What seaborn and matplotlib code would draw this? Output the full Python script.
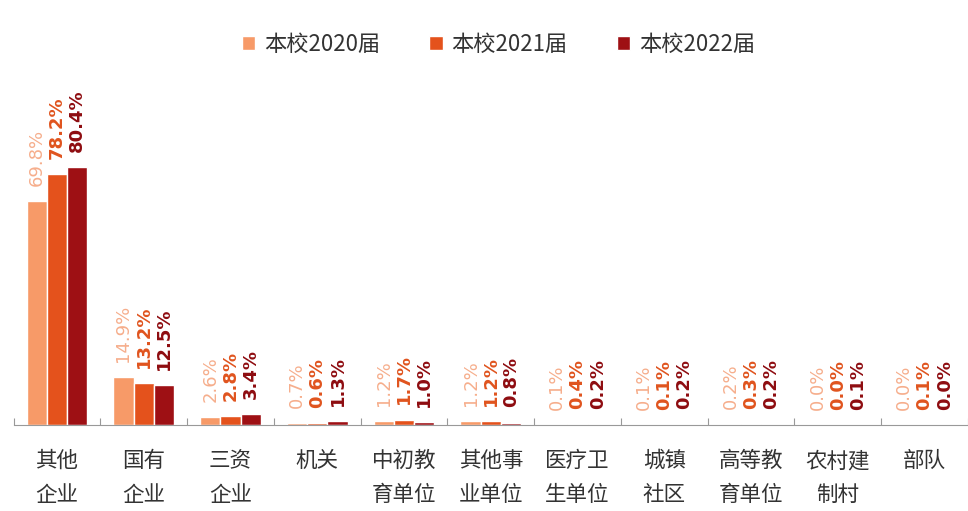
import numpy as np
import pandas as pd
import matplotlib
matplotlib.use('Agg')
import matplotlib.pyplot as plt
import seaborn as sns

# 数据
categories = ['其他\n企业', '国有\n企业', '三资\n企业', '机关', '中初教\n育单位', '其他事\n业单位',
              '医疗卫\n生单位', '城镇\n社区', '高等教\n育单位', '农村建\n制村', '部队']
years = ['本校2020届', '本校2021届', '本校2022届']
v2020 = [69.8, 14.9, 2.6, 0.7, 1.2, 1.2, 0.1, 0.1, 0.2, 0.0, 0.0]
v2021 = [78.2, 13.2, 2.8, 0.6, 1.7, 1.2, 0.4, 0.1, 0.3, 0.0, 0.1]
v2022 = [80.4, 12.5, 3.4, 1.3, 1.0, 0.8, 0.2, 0.2, 0.2, 0.1, 0.0]

bar_colors = ['#F79A68', '#E4521C', '#9E1014']
label_colors = ['#F6AE8C', '#E0541E', '#8E0C10']
label_weights = ['normal', 'bold', 'bold']

df = pd.DataFrame({
    'cat': categories * 3,
    'year': [years[0]] * 11 + [years[1]] * 11 + [years[2]] * 11,
    'val': v2020 + v2021 + v2022,
})

sns.set_style('white')
plt.rcParams['font.family'] = ['Noto Sans CJK SC', 'DejaVu Sans']

fig = plt.figure(figsize=(9.68, 5.11), dpi=100)
ax = fig.add_axes([0.014, 0.168, 0.986, 0.628])

sns.barplot(data=df, x='cat', y='val', hue='year', palette=bar_colors,
            width=0.7, saturation=1, legend=True, ax=ax, gap=0)

for i, cont in enumerate(ax.containers):
    ax.bar_label(cont, labels=[f'{v:.1f}%' for v in cont.datavalues], rotation=90,
                 padding=11, color=label_colors[i], fontweight=label_weights[i],
                 fontsize=13, family='DejaVu Sans')

ax.set_ylim(0, 100)
ax.set_xlim(-0.5, len(categories) - 0.5)
ax.set_xlabel('')
ax.set_ylabel('')
ax.set_yticks([])
ax.tick_params(axis='x', which='major', length=0, labelsize=15.5, labelcolor='#333333', pad=18)
ax.set_xticks(np.arange(-0.5, len(categories), 1), minor=True)
ax.tick_params(axis='x', which='minor', bottom=True, direction='in', length=5,
               width=0.8, color='#999999')
for lab in ax.get_xticklabels():
    lab.set_linespacing(1.7)

for s in ['top', 'right', 'left']:
    ax.spines[s].set_visible(False)
ax.spines['bottom'].set_color('#999999')

handles, labels = ax.get_legend_handles_labels()
ax.get_legend().remove()
fig.legend(handles, labels, loc='upper center', bbox_to_anchor=(0.515, 0.975), ncol=3,
           frameon=False, handlelength=0.6, handleheight=0.6, columnspacing=2.2,
           handletextpad=0.4, fontsize=16, labelcolor='#333333')

fig.savefig('out.png', dpi=100)
